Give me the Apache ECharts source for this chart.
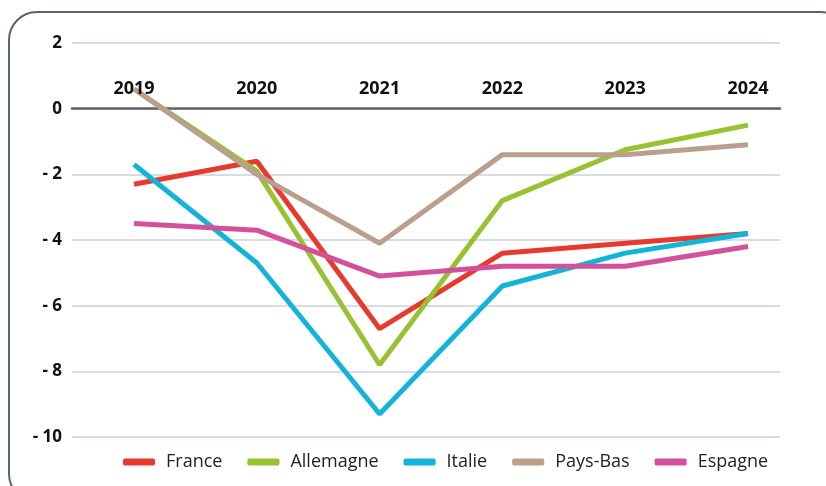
<!DOCTYPE html>
<html><head><meta charset="utf-8">
<script src="https://cdn.jsdelivr.net/npm/echarts@6/dist/echarts.min.js"></script>
<style>html,body{margin:0;padding:0;background:#fff}#c{width:826px;height:486px}</style>
</head><body><div id="c"></div>
<script>
const years = ['2019','2020','2021','2022','2023','2024'];
const france = [-2.3, -1.6, -6.7, -4.4, -4.1, -3.8];
const allemagne = [0.6, -1.9, -7.8, -2.8, -1.25, -0.5];
const italie = [-1.7, -4.7, -9.3, -5.4, -4.4, -3.8];
const paysBas = [0.6, -2.0, -4.1, -1.4, -1.4, -1.1];
const espagne = [-3.5, -3.7, -5.1, -4.8, -4.8, -4.2];
const names = ['France','Allemagne','Italie','Pays-Bas','Espagne'];
const colors = ['#e8392f','#97c231','#12b5d8','#b9a08e','#d4509a'];
const dataSets = [france, allemagne, italie, paysBas, espagne];
const FONT = 'Open Sans';

const chart = echarts.init(document.getElementById('c'));
chart.setOption({
  animation: false,
  textStyle: {fontFamily: FONT},
  graphic: [{type:'rect', shape:{x:9, y:12, width:840, height:490, r:28}, style:{fill:'none', stroke:'#5a6272', lineWidth:2}, z:-1}],
  grid: [
    {left:72, right:46, top:43, bottom:49},
    {left:134, right:78, top:43, bottom:49}
  ],
  xAxis: [
    {gridIndex:0, type:'category', data:years, axisLine:{show:true, onZero:true, lineStyle:{color:'#596070', width:2.5}}, axisTick:{show:false}, axisLabel:{show:false}, splitLine:{show:false}},
    {gridIndex:1, type:'category', data:years, boundaryGap:false, position:'top', offset:-65,
     axisLine:{show:false, onZero:false}, axisTick:{show:false},
     axisLabel:{margin:10, fontSize:18, fontWeight:'bold', color:'#111', fontFamily:FONT}, splitLine:{show:false}, z:10}
  ],
  yAxis: [
    {gridIndex:0, type:'value', min:-10, max:2, interval:2,
     axisLine:{show:false}, axisTick:{show:false},
     axisLabel:{margin:10, fontSize:17, fontWeight:'bold', color:'#111', fontFamily:FONT,
       formatter: v => v < 0 ? '- ' + Math.abs(v) : String(v)},
     splitLine:{lineStyle:{color:'#cdd1dc', width:1.5}}},
    {gridIndex:1, type:'value', min:-10, max:2, interval:2, show:false, splitLine:{show:false}}
  ],
  legend: {
    left:118, top:448, itemWidth:32, itemHeight:7, itemGap:25, icon:'roundRect',
    textStyle:{fontSize:18, color:'#222', fontFamily:FONT, padding:[0,0,0,6]},
    data: names
  },
  series: names.map((n,i) => ({
    name:n, type:'line', xAxisIndex:1, yAxisIndex:1, data:dataSets[i],
    symbol:'none', showSymbol:false, color:colors[i],
    lineStyle:{width:5, color:colors[i]}
  }))
});
</script></body></html>
